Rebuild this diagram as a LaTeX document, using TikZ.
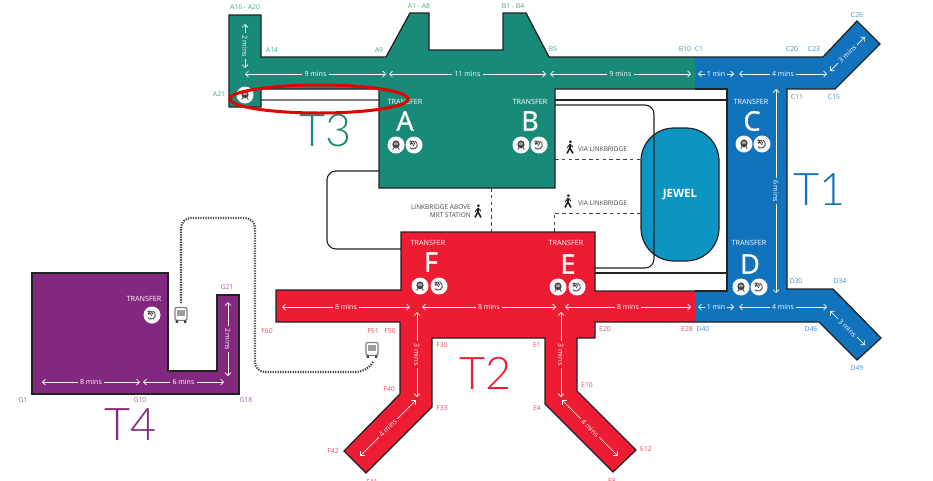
\documentclass[tikz,border=0pt]{standalone}
\usepackage{fontspec}
\usetikzlibrary{shapes.geometric,arrows.meta}
\setmainfont{Open Sans}
\newfontfamily\thinfont{Lato Light}
\newfontfamily\pierfont[FakeBold=1.2]{Open Sans}
\definecolor{tgreen}{HTML}{1A8A78}
\definecolor{tblue}{HTML}{1273BD}
\definecolor{tred}{HTML}{ED1C33}
\definecolor{tpurple}{HTML}{82287F}
\definecolor{tjewel}{HTML}{0C94C2}
\definecolor{edgedark}{HTML}{222222}
\definecolor{signgrey}{HTML}{444444}
\tikzset{
  terminal/.style={fill=#1, draw=edgedark, line width=1.3pt, line join=miter},
  edgeline/.style={draw=edgedark, line width=1.3pt, line join=miter},
  link/.style={draw=edgedark, line width=1.1pt, rounded corners=9pt},
  walkway/.style={draw=signgrey, line width=.9pt, dash pattern=on 3.6pt off 3.2pt},
  walk/.style={white, line width=.7pt, {Straight Barb[length=3pt,width=6pt]}-{Straight Barb[length=3pt,width=6pt]}},
  mins/.style={fill=#1, text=white, font=\fontsize{7}{8}\selectfont, inner sep=2.2pt},
  gate/.style={text=#1, font=\fontsize{6.8}{7}\selectfont, inner sep=0pt},
  transfer/.style={text=white, font=\fontsize{7.2}{8}\selectfont, inner sep=0pt},
  pier/.style={text=white, font=\pierfont\fontsize{27}{28}\selectfont, inner sep=0pt},
  tname/.style={text=#1, font=\thinfont\fontsize{45}{46}\selectfont, inner sep=0pt},
  sign/.style={text=signgrey, font=\fontsize{6.5}{8}\selectfont, inner sep=0pt},
  disc/.style={circle, fill=white, minimum size=17pt, inner sep=0pt},
  trainpic/.pic={
    \fill[signgrey] (0,-.6) ellipse (3.6 and 4);
    \fill[signgrey!50, rounded corners=.8pt] (-2,-2.6) rectangle (2,.2);
    \draw[signgrey, line width=.9pt] (-2.2,2.6) -- (-3.2,4.6) (2.2,2.6) -- (3.2,4.6);
  },
  handpic/.pic={
    \draw[signgrey, line width=.8pt] (-4.6,-3.2) -- (-1,-3.8) -- (1,-.6) (-3.4,-4.4) -- (-.2,.8);
    \draw[signgrey, line width=.9pt] (.6,-4) arc[start angle=-70, end angle=140, radius=4.2];
    \fill[signgrey] (-3.2,-1.4) circle (1.3);
  },
  walkerpic/.pic={
    \fill[edgedark] (.4,-5.2) circle (1.5);
    \draw[edgedark, line width=1.6pt] (.2,-3) -- (-.1,1) -- (-3,6.4) (-.1,1) -- (3,6.4);
    \draw[edgedark, line width=.9pt] (-.1,-2.8) -- (-2.8,.8) (.3,-2.8) -- (3,.2);
  },
  buspic/.pic={
    \draw[gray, fill=white, line width=1.3pt, rounded corners=2pt] (-6,-7.6) rectangle (6,5.4);
    \fill[gray!75] (-4,-5.4) rectangle (4,1);
    \fill[signgrey] (-5.4,5.4) rectangle (-3,7.8) (3,5.4) rectangle (5.4,7.8);
  }
}
\begin{document}
\begin{tikzpicture}[x=1pt, y=-1pt]
    \useasboundingbox (0,0) rectangle (933,480);

    %—————— enlaces ——————————————————————————————————————————
    % jewel
    \draw[fill=tjewel, draw=edgedark, line width=1.2pt, rounded corners=33pt]
      (641,128) rectangle (719,261);
    \node[text=white, font=\fontsize{11.5}{13}\selectfont\bfseries, inner sep=0pt] (jewel) at (680,195) {JEWEL};
    % lineas
    \draw[link, draw=gray] (261,100) -- (379,100);
    \draw[link] (555,100) -- (727,100);
    \draw[link] (555,105) -- (654,105) -- (654,268) -- (595,268);
    \draw[link] (595,273) -- (727,273);
    \draw[link] (379,171) -- (327,171) -- (327,249) -- (401,249);
    % pasarelas
    \draw[walkway] (491,188) -- (491,232);
    \draw[walkway] (555,159) -- (641,159);
    \draw[walkway] (554,232) -- (554,213) -- (641,213);
    % autobus
    \draw[signgrey, line width=2.1pt, dash pattern=on 1.3pt off 1.2pt, rounded corners=10pt]
      (181,303) -- (181,218) -- (255,218) -- (255,372) -- (366,372) -- (373,362);
    \pic at (181,315) {buspic};
    \pic at (372,350) {buspic};

    %—————— T3 ——————————————————————————————————————————————
    \draw[terminal=tgreen] (695,57) -- (549,57) -- (526,13) -- (503,13) -- (503,50) -- (429,50)
      -- (429,13) -- (410,13) -- (386,57) -- (261,57) -- (261,15) -- (229,15) -- (229,107)
      -- (261,107) -- (261,89) -- (379,89) -- (379,188) -- (555,188) -- (555,89) -- (695,89);
    \draw[walk] (245,24) -- node[mins=tgreen, rotate=-90] {2 mins} (245,68);
    \draw[walk] (245,74) -- node[mins=tgreen] {9 mins} (386,74);
    \draw[walk] (389,74) -- node[mins=tgreen] {11 mins} (546,74);
    \draw[walk] (550,74) -- node[mins=tgreen] {9 mins} (691,74);
    \node[transfer] (transA) at (405,102) {TRANSFER};
    \node[transfer] (transB) at (530,102) {TRANSFER};
    \node[pier] (pierA) at (405,121) {A};
    \node[pier] (pierB) at (530,121) {B};
    \node[tname=tgreen] (nameT3) at (326,131) {T3};
    % etiquetas
    \node[gate=tgreen!80] (A16) at (245,7) {A16 - A20};
    \node[gate=tgreen!80] (A1) at (419,6) {A1 - A8};
    \node[gate=tgreen!80] (B1) at (513,6) {B1 - B4};
    \node[gate=tgreen!80] (A14) at (272,50) {A14};
    \node[gate=tgreen!80] (A9) at (379,50) {A9};
    \node[gate=tgreen!80] (B5) at (553,49) {B5};
    \node[gate=tgreen!80] (B10) at (685,49) {B10};
    \node[gate=tgreen!80] (A21) at (219,94) {A21};

    %—————— T1 ——————————————————————————————————————————————
    \fill[tblue] (695,57) -- (823,57) -- (857,21) -- (880,44) -- (835,89) -- (787,89)
      -- (787,289) -- (833,289) -- (881,338) -- (857,360) -- (819,322) -- (695,322)
      -- (695,291) -- (727,291) -- (727,89) -- (695,89) -- cycle;
    \draw[edgeline] (695,57) -- (823,57) -- (857,21) -- (880,44) -- (835,89) -- (787,89)
      -- (787,289) -- (833,289) -- (881,338) -- (857,360) -- (819,322) -- (695,322);
    \draw[edgeline] (695,89) -- (727,89) -- (727,291) -- (695,291);
    \draw[walk] (698,74) -- node[mins=tblue] {1 min} (734,74);
    \draw[walk] (739,74) -- node[mins=tblue] {4 mins} (827,74);
    \draw[walk] (830,71) -- node[mins=tblue, sloped] {3 mins} (865,37);
    \draw[walk] (776,89) -- node[mins=tblue, rotate=-90] {6 mins} (776,293);
    \draw[walk] (698,307) -- node[mins=tblue] {1 min} (734,307);
    \draw[walk] (739,307) -- node[mins=tblue] {4 mins} (827,307);
    \draw[walk] (830,311) -- node[mins=tblue, sloped] {3 mins} (865,345);
    \node[transfer] (transC) at (751,102) {TRANSFER};
    \node[transfer] (transD) at (749,243) {TRANSFER};
    \node[pier] (pierC) at (752,121) {C};
    \node[pier] (pierD) at (750,264) {D};
    \node[tname=tblue] (nameT1) at (820,190) {T1};
    % etiquetas
    \node[gate=tblue!80] (C1) at (699,49) {C1};
    \node[gate=tblue!80] (C20) at (792,49) {C20};
    \node[gate=tblue!80] (C23) at (814,49) {C23};
    \node[gate=tblue!80] (C26) at (857,15) {C26};
    \node[gate=tblue!80] (C11) at (797,97) {C11};
    \node[gate=tblue!80] (C15) at (834,97) {C15};
    \node[gate=tblue!80] (D30) at (796,281) {D30};
    \node[gate=tblue!80] (D34) at (840,281) {D34};
    \node[gate=tblue!80] (D40) at (703,329) {D40};
    \node[gate=tblue!80] (D46) at (811,329) {D46};
    \node[gate=tblue!80] (D49) at (857,368) {D49};

    %—————— T2 ——————————————————————————————————————————————
    \draw[terminal=tred] (695,322) -- (595,322) -- (595,338) -- (577,338) -- (577,391) -- (636,450)
      -- (613,472) -- (545,404) -- (545,338) -- (432,338) -- (432,407) -- (366,473) -- (344,451)
      -- (400,394) -- (400,322) -- (276,322) -- (276,290) -- (401,290) -- (401,232) -- (595,232)
      -- (595,291) -- (695,291);
    \draw[walk] (282,307) -- node[mins=tred] {8 mins} (410,307);
    \draw[walk] (422,307) -- node[mins=tred] {8 mins} (556,307);
    \draw[walk] (565,307) -- node[mins=tred] {8 mins} (691,307);
    \draw[walk] (417,312) -- node[mins=tred, rotate=-90] {3 mins} (417,397);
    \draw[walk] (561,312) -- node[mins=tred, rotate=-90] {3 mins} (561,397);
    \draw[walk] (360,456) -- node[mins=tred, sloped] {4 mins} (416,400);
    \draw[walk] (562,400) -- node[mins=tred, sloped] {4 mins} (618,456);
    \node[transfer] (transF) at (428,243) {TRANSFER};
    \node[transfer] (transE) at (566,243) {TRANSFER};
    \node[pier] (pierF) at (431,262) {F};
    \node[pier] (pierE) at (568,264) {E};
    \node[tname=tred] (nameT2) at (486,373) {T2};
    % etiquetas
    \node[gate=tred!80] (E20) at (605,329) {E20};
    \node[gate=tred!80] (E28) at (687,329) {E28};
    \node[gate=tred!80] (F60) at (267,331) {F60};
    \node[gate=tred!80] (F51) at (373,331) {F51};
    \node[gate=tred!80] (F50) at (390,331) {F50};
    \node[gate=tred!80] (F30) at (442,345) {F30};
    \node[gate=tred!80] (E1) at (537,345) {E1};
    \node[gate=tred!80] (E10) at (587,385) {E10};
    \node[gate=tred!80] (E4) at (537,408) {E4};
    \node[gate=tred!80] (E12) at (646,449) {E12};
    \node[gate=tred!80] (E8) at (612,481) {E8};
    \node[gate=tred!80] (F33) at (442,408) {F33};
    \node[gate=tred!80] (F40) at (389,389) {F40};
    \node[gate=tred!80] (F42) at (333,451) {F42};
    \node[gate=tred!80] (F41) at (372,482) {F41};

    %—————— T4 ——————————————————————————————————————————————
    \draw[terminal=tpurple] (32,273) -- (168,273) -- (168,371) -- (217,371) -- (217,295) -- (239,295)
      -- (239,394) -- (32,394) -- cycle;
    \draw[walk] (42,382) -- node[mins=tpurple] {8 mins} (140,382);
    \draw[walk] (143,382) -- node[mins=tpurple] {6 mins} (224,382);
    \draw[walk] (228,302) -- node[mins=tpurple, rotate=-90] {2 mins} (228,376);
    \node[transfer] (transG) at (144,299) {TRANSFER};
    \node[tname=tpurple] (nameT4) at (131,425) {T4};
    % etiquetas
    \node[gate=tpurple!75] (G1) at (23,400) {G1};
    \node[gate=tpurple!75] (G10) at (140,400) {G10};
    \node[gate=tpurple!75] (G18) at (246,400) {G18};
    \node[gate=tpurple!75] (G21) at (227,287) {G21};

    %—————— iconos ——————————————————————————————————————————
    \node[disc] (trainA) at (396,145) {}; \pic at (trainA) {trainpic};
    \node[disc] (handA) at (414,145) {}; \pic at (handA) {handpic};
    \node[disc] (trainB) at (521,145) {}; \pic at (trainB) {trainpic};
    \node[disc] (handB) at (539,145) {}; \pic at (handB) {handpic};
    \node[disc] (trainC) at (744,144) {}; \pic at (trainC) {trainpic};
    \node[disc] (handC) at (762,144) {}; \pic at (handC) {handpic};
    \node[disc] (trainD) at (741,287) {}; \pic at (trainD) {trainpic};
    \node[disc] (handD) at (759,287) {}; \pic at (handD) {handpic};
    \node[disc] (trainE) at (558,287) {}; \pic at (trainE) {trainpic};
    \node[disc] (handE) at (577,287) {}; \pic at (handE) {handpic};
    \node[disc] (trainF) at (420,286) {}; \pic at (trainF) {trainpic};
    \node[disc] (handF) at (439,286) {}; \pic at (handF) {handpic};
    \node[disc] (handG) at (152,315) {}; \pic at (handG) {handpic};
    \node[disc] (trainT3) at (245,95) {}; \pic at (trainT3) {trainpic};

    %—————— pasarelas, textos ———————————————————————————————
    \pic at (570,147) {walkerpic};
    \node[sign, anchor=west] (viaup) at (578,149) {VIA LINKBRIDGE};
    \pic at (568,201) {walkerpic};
    \node[sign, anchor=west] (vialow) at (578,203) {VIA LINKBRIDGE};
    \pic at (478,211) {walkerpic};
    \node[sign, align=right, anchor=east] (mrt) at (471,211) {LINKBRIDGE ABOVE\\MRT STATION};

    % marca roja
    \node[ellipse, draw=red!90!black, line width=3pt, minimum width=178pt, minimum height=28pt] (mark) at (319,99) {};
\end{tikzpicture}
\end{document}
